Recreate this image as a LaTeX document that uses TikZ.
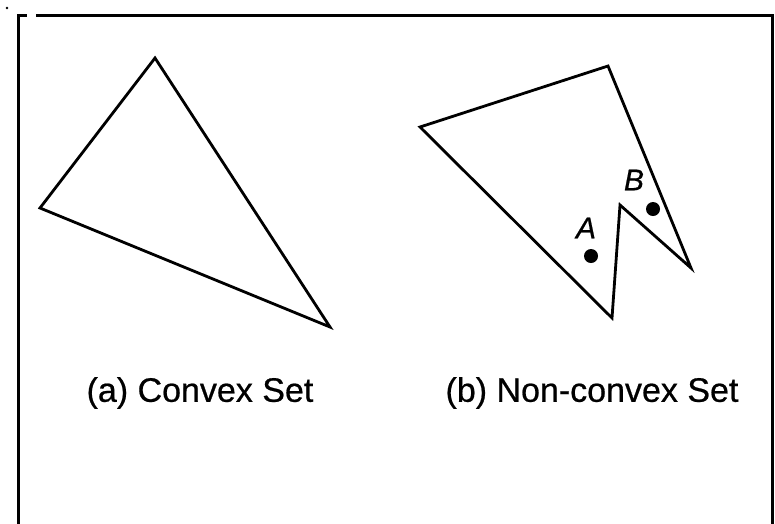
\documentclass[tikz,border=0pt]{standalone}
\usepackage{fontspec}
\setmainfont{Liberation Sans}[FakeBold=0]
\newfontfamily\capfont{Liberation Sans}[FakeBold=0.6]
\begin{document}
\begin{tikzpicture}[x=1pt,y=-1pt,
  shape line/.style={line width=2.8pt,line join=miter},
  frame line/.style={line width=3pt},
  caption/.style={font=\capfont\fontsize{34}{38}\selectfont,inner sep=0pt},
  ptlabel/.style={font=\capfont\fontsize{30}{34}\selectfont\itshape,inner sep=0pt},
  dot/.style={circle,fill=black,inner sep=0pt,minimum size=14pt}]
\useasboundingbox (0,0) rectangle (775,523);
\fill[white] (0,0) rectangle (775,523);
% frame
\coordinate (f1) at (18,530);
\coordinate (f2) at (18,15);
\coordinate (f3) at (27,15);
\coordinate (f4) at (36,15);
\coordinate (f5) at (772,15);
\coordinate (f6) at (772,530);
\draw[frame line] (f1) -- (f2) -- (f3);
\draw[frame line] (f4) -- (f5) -- (f6);
\fill (7,8) circle (1.3pt);
% convex triangle
\coordinate (a1) at (155,58);
\coordinate (a2) at (40,208);
\coordinate (a3) at (330,327);
\draw[shape line] (a1) -- (a2) -- (a3) -- cycle;
% non-convex polygon
\coordinate (b1) at (420,127);
\coordinate (b2) at (608,66);
\coordinate (b3) at (691,268);
\coordinate (b4) at (620,205);
\coordinate (b5) at (612,318);
\draw[shape line] (b1) -- (b2) -- (b3) -- (b4) -- (b5) -- cycle;
% points
\node[dot] (pA) at (591,256) {};
\node[dot] (pB) at (653,209) {};
\node[ptlabel] (lA) at (586,228) {A};
\node[ptlabel] (lB) at (634,180) {B};
% captions
\node[caption] (ca) at (200,393) {(a) Convex Set};
\node[caption] (cb) at (592,393) {(b) Non-convex Set};
\end{tikzpicture}
\end{document}
